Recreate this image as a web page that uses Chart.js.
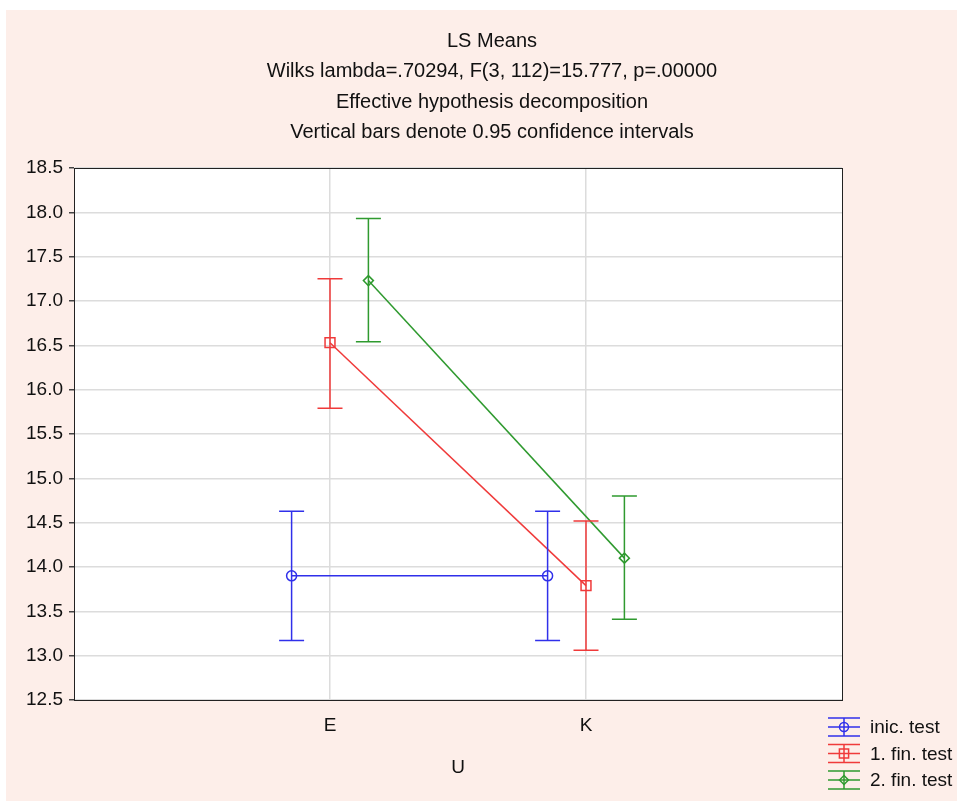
<!DOCTYPE html>
<html>
<head>
<meta charset="utf-8">
<script src="https://cdn.jsdelivr.net/npm/chart.js@4.4.1/dist/chart.umd.min.js"></script>
<style>
  html, body { margin: 0; padding: 0; background: #ffffff; }
  #wrap { position: absolute; left: 6px; top: 10px; width: 951px; height: 791px; background: #fdeee9; }
</style>
</head>
<body>
<div id="wrap"><canvas id="chart" width="951" height="791"></canvas></div>
<script>
// data
var categories = ['E', 'K'];
var catPos = [1, 2];
var seriesNames = ['inic. test', '1. fin. test', '2. fin. test'];
var seriesOffset = [-0.15, 0, 0.15];
var inicMean = [13.90, 13.90];
var inicLow = [13.17, 13.17];
var inicHigh = [14.63, 14.63];
var fin1Mean = [16.53, 13.79];
var fin1Low = [15.79, 13.06];
var fin1High = [17.25, 14.52];
var fin2Mean = [17.23, 14.10];
var fin2Low = [16.54, 13.41];
var fin2High = [17.93, 14.80];
var titleLines = ['LS Means', 'Wilks lambda=.70294, F(3, 112)=15.777, p=.00000',
  'Effective hypothesis decomposition', 'Vertical bars denote 0.95 confidence intervals'];

var colors = ['#3030ea', '#f03a3a', '#2f9a2f'];
var styles = ['circle', 'rect', 'rectRot'];
var radii = [5, 7, 5];
var means = [inicMean, fin1Mean, fin2Mean];
var lows = [inicLow, fin1Low, fin2Low];
var highs = [inicHigh, fin1High, fin2High];
var FONT = 'Liberation Sans, Arial, sans-serif';

function makeDataset(i) {
  var pts = [];
  for (var k = 0; k < categories.length; k++) {
    pts.push({ x: catPos[k] + seriesOffset[i], y: means[i][k], lo: lows[i][k], hi: highs[i][k] });
  }
  return {
    label: seriesNames[i],
    data: pts,
    showLine: true,
    borderColor: colors[i],
    borderWidth: 1.5,
    pointStyle: styles[i],
    pointRadius: radii[i],
    pointBorderWidth: 1.5,
    pointBorderColor: colors[i],
    pointBackgroundColor: 'rgba(0,0,0,0)',
    tension: 0
  };
}

// white plot area, vertical confidence bars, frame, legend and heading
var extras = {
  id: 'extras',
  beforeDraw: function(chart) {
    var a = chart.chartArea;
    chart.ctx.save();
    chart.ctx.fillStyle = '#ffffff';
    chart.ctx.fillRect(a.left, a.top, a.right - a.left, a.bottom - a.top);
    chart.ctx.restore();
  },
  afterDatasetsDraw: function(chart) {
    var ctx = chart.ctx;
    var xs = chart.scales.x, ys = chart.scales.y;
    chart.data.datasets.forEach(function(ds, i) {
      ctx.save();
      ctx.strokeStyle = colors[i];
      ctx.lineWidth = 1.5;
      ds.data.forEach(function(p) {
        var px = xs.getPixelForValue(p.x);
        var top = ys.getPixelForValue(p.hi);
        var bot = ys.getPixelForValue(p.lo);
        ctx.beginPath();
        ctx.moveTo(px, top); ctx.lineTo(px, bot);
        ctx.moveTo(px - 12.5, top); ctx.lineTo(px + 12.5, top);
        ctx.moveTo(px - 12.5, bot); ctx.lineTo(px + 12.5, bot);
        ctx.stroke();
      });
      ctx.restore();
    });
  },
  afterDraw: function(chart) {
    var ctx = chart.ctx;
    var a = chart.chartArea;
    ctx.save();
    ctx.strokeStyle = '#222';
    ctx.lineWidth = 1;
    ctx.strokeRect(Math.round(a.left) + 0.5, Math.round(a.top) + 0.5, Math.round(a.right - a.left), Math.round(a.bottom - a.top));
    ctx.fillStyle = '#111';
    ctx.font = '20px ' + FONT;
    ctx.textAlign = 'center';
    ctx.textBaseline = 'middle';
    titleLines.forEach(function(t, i) {
      ctx.fillText(t, 486, 31 + i * 30.5);
    });
    // legend
    ctx.textAlign = 'left';
    ctx.font = '19px ' + FONT;
    seriesNames.forEach(function(name, i) {
      var cy = 717 + i * 26.5, x0 = 822, x1 = 854, cx = 838;
      ctx.strokeStyle = colors[i];
      ctx.lineWidth = 1.5;
      ctx.beginPath();
      ctx.moveTo(x0, cy - 9); ctx.lineTo(x1, cy - 9);
      ctx.moveTo(x0, cy); ctx.lineTo(x1, cy);
      ctx.moveTo(x0, cy + 9); ctx.lineTo(x1, cy + 9);
      ctx.moveTo(cx, cy - 9); ctx.lineTo(cx, cy + 9);
      ctx.stroke();
      ctx.fillStyle = 'rgba(0,0,0,0)';
      Chart.helpers.drawPoint(ctx, { pointStyle: styles[i], radius: radii[i] - 0.5, borderWidth: 1.5 }, cx, cy);
      ctx.fillStyle = '#111';
      ctx.fillText(name, 864, cy + 1);
    });
    ctx.restore();
  }
};

new Chart(document.getElementById('chart'), {
  type: 'scatter',
  data: { datasets: [makeDataset(0), makeDataset(1), makeDataset(2)] },
  plugins: [extras],
  options: {
    responsive: false,
    animation: false,
    layout: { padding: { left: 0, top: 158, right: 115, bottom: 0 } },
    plugins: {
      legend: { display: false },
      tooltip: { enabled: false }
    },
    scales: {
      x: {
        type: 'linear',
        min: 0,
        max: 3,
        afterBuildTicks: function(scale) {
          scale.ticks = catPos.map(function(v) { return { value: v }; });
        },
        afterFit: function(scale) { scale.height = 101; },
        ticks: {
          color: '#111',
          font: { size: 19, family: FONT },
          padding: 14,
          callback: function(v) { return categories[catPos.indexOf(v)]; }
        },
        grid: { color: '#dcdcdc', lineWidth: 1.5, drawTicks: false },
        border: { color: '#222', width: 1 },
        title: { display: true, text: 'U', color: '#111', font: { size: 19, family: FONT }, padding: { top: 4, bottom: 22 } }
      },
      y: {
        min: 12.5,
        max: 18.5,
        afterFit: function(scale) { scale.width = 68; },
        ticks: {
          stepSize: 0.5,
          color: '#111',
          font: { size: 19, family: FONT },
          padding: 6,
          callback: function(v) { return v.toFixed(1); }
        },
        grid: { color: '#dcdcdc', lineWidth: 1.5, tickLength: 5, tickColor: '#444' },
        border: { color: '#222', width: 1 }
      }
    }
  }
});
</script>
</body>
</html>
